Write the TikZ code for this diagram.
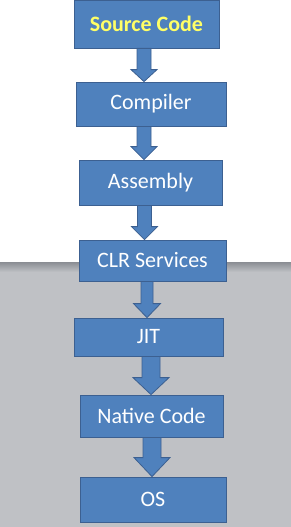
\documentclass[tikz,border=0pt]{standalone}
\usepackage{fontspec}
\setmainfont{Carlito}
\usepackage{tikz}
\usetikzlibrary{positioning, calc}
\definecolor{BoxBlue}{RGB}{79,129,189}
\definecolor{BoxEdge}{RGB}{60,96,145}
\definecolor{SrcYellow}{RGB}{255,255,102}
\definecolor{PageGray}{RGB}{191,193,197}
\definecolor{ShadowGray}{RGB}{138,141,147}

% block arrow: from, to, centre x, shaft half, head half, head length
\newcommand{\blockarrow}[6]{%
  \filldraw[flow] let \p1 = (#1.south), \p2 = (#2.north) in
    ({(#3-#4)*1pt},\y1) -- ({(#3-#4)*1pt},{\y2+#6pt}) -- ({(#3-#5)*1pt},{\y2+#6pt})
    -- ({#3*1pt},\y2) -- ({(#3+#5)*1pt},{\y2+#6pt}) -- ({(#3+#4)*1pt},{\y2+#6pt})
    -- ({(#3+#4)*1pt},\y1) -- cycle;}

\begin{document}
\begin{tikzpicture}[x=1pt, y=-1pt,
          stage/.style={rectangle, draw=BoxEdge, fill=BoxBlue, line width=0.8pt,
                        inner sep=0pt, text=white, font=\fontsize{22}{26}\selectfont},
          flow/.style={draw=BoxEdge, fill=BoxBlue, line width=0.8pt, line join=miter}
        ]
        \useasboundingbox (0,0) rectangle (291,527);

        % page: white top, grey bottom with shadow
        \fill[white] (0,0) rectangle (291,262);
        \fill[PageGray] (0,262) rectangle (291,527);
        \shade[top color=ShadowGray, bottom color=PageGray] (0,262) rectangle (291,272);

        % stages
        \node[stage, minimum width=145pt, minimum height=48pt, text=SrcYellow,
              font=\fontsize{22}{26}\selectfont\bfseries] (src) at (146.5,24) {Source Code};
        \node[stage, minimum width=150pt, minimum height=44pt] (comp) at (151,104) {Compiler};
        \node[stage, minimum width=143pt, minimum height=45pt] (asm) at (150.5,182.5) {Assembly};
        \node[stage, minimum width=147pt, minimum height=41pt] (clr) at (152.5,260.5) {CLR Services};
        \node[stage, minimum width=149pt, minimum height=38pt] (jit) at (148.5,337) {JIT};
        \node[stage, minimum width=143pt, minimum height=42pt] (native) at (151.5,416) {Native Code};
        \node[stage, minimum width=146pt, minimum height=45pt] (os) at (153,499.5) {OS};

        % arrows
        \blockarrow{src}{comp}{144}{7}{13}{12}
        \blockarrow{comp}{asm}{144}{7}{13}{13}
        \blockarrow{asm}{clr}{144.5}{7}{13}{13}
        \blockarrow{clr}{jit}{147}{6}{13.5}{14}
        \blockarrow{jit}{native}{151}{9}{18}{17}
        \blockarrow{native}{os}{152}{9}{18}{19}
      \end{tikzpicture}
\end{document}
